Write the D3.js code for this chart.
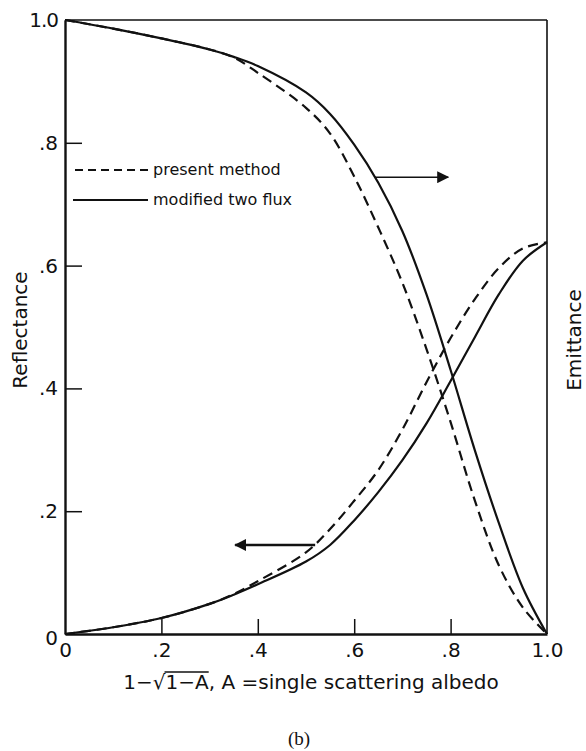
<!DOCTYPE html>
<html>
<head>
<meta charset="utf-8">
<script src="https://cdn.jsdelivr.net/npm/d3@7"></script>
<style>
  body { margin: 0; background: #fff; }
  svg text { font-family: "DejaVu Sans", sans-serif; fill: #111; }
</style>
</head>
<body>
<div class="container"></div>
<script>
// values
var xs = [0, 0.1, 0.2, 0.3, 0.35, 0.4, 0.5, 0.55, 0.6, 0.65, 0.7, 0.75, 0.8, 0.85, 0.9, 0.95, 1.0];
var emitTwoFlux = [1.0, 0.986, 0.970, 0.952, 0.940, 0.925, 0.882, 0.847, 0.797, 0.735, 0.656, 0.553, 0.430, 0.300, 0.181, 0.075, 0];
var emitPresent = [1.0, 0.986, 0.970, 0.952, 0.939, 0.914, 0.857, 0.815, 0.745, 0.662, 0.572, 0.464, 0.345, 0.218, 0.112, 0.043, 0];
var reflTwoFlux = [0, 0.011, 0.026, 0.049, 0.064, 0.081, 0.118, 0.145, 0.185, 0.231, 0.283, 0.343, 0.412, 0.483, 0.553, 0.608, 0.638];
var reflPresent = [0, 0.011, 0.026, 0.049, 0.065, 0.086, 0.133, 0.171, 0.217, 0.267, 0.333, 0.410, 0.482, 0.545, 0.596, 0.628, 0.638];
var yTicks = [0, 0.2, 0.4, 0.6, 0.8, 1.0];
var yTickLabels = ["0", ".2", ".4", ".6", ".8", "1.0"];
var xTicks = [0, 0.2, 0.4, 0.6, 0.8, 1.0];
var xTickLabels = ["0", ".2", ".4", ".6", ".8", "1.0"];
var legendLabels = ["present method", "modified two flux"];
// arrows: [y, xFrom, xTo]
var emitArrow = [0.744, 0.643, 0.795];
var reflArrow = [0.145, 0.519, 0.353];

var w = 586,
  h = 751;

var svg = d3
  .select(".container")
  .append("svg")
  .attr("width", w)
  .attr("height", h);

var xScale = d3.scaleLinear().domain([0, 1]).range([65, 547]);
var yScale = d3.scaleLinear().domain([0, 1]).range([634, 20]);

svg
  .append("defs")
  .append("marker")
  .attr("id", "head")
  .attr("viewBox", "0 0 12 12")
  .attr("refX", 11)
  .attr("refY", 6)
  .attr("markerWidth", 12)
  .attr("markerHeight", 12)
  .attr("markerUnits", "userSpaceOnUse")
  .attr("orient", "auto")
  .append("path")
  .attr("d", "M0,0 L12,6 L0,12 Z")
  .attr("fill", "#111");

// frame
svg
  .append("line")
  .attr("x1", xScale(0))
  .attr("x2", xScale(1))
  .attr("y1", yScale(1))
  .attr("y2", yScale(1))
  .attr("stroke", "#111")
  .attr("stroke-width", 1.6);
svg
  .append("line")
  .attr("x1", xScale(1))
  .attr("x2", xScale(1))
  .attr("y1", yScale(1))
  .attr("y2", yScale(0))
  .attr("stroke", "#111")
  .attr("stroke-width", 1.6);

var xAxis = d3
  .axisBottom(xScale)
  .tickValues(xTicks)
  .tickSizeInner(-15)
  .tickSizeOuter(0)
  .tickPadding(9)
  .tickFormat((d, i) => xTickLabels[i]);

var yAxis = d3
  .axisLeft(yScale)
  .tickValues(yTicks)
  .tickSizeInner(-17)
  .tickSizeOuter(0)
  .tickPadding(7)
  .tickFormat((d, i) => yTickLabels[i]);

var gx = svg
  .append("g")
  .attr("transform", "translate(0," + yScale(0) + ")")
  .call(xAxis);
var gy = svg
  .append("g")
  .attr("transform", "translate(" + xScale(0) + ",0)")
  .call(yAxis);

[gx, gy].forEach((g) => {
  g.selectAll("text")
    .style("font-family", "DejaVu Sans, sans-serif")
    .style("font-size", "20px")
    .attr("fill", "#111");
  g.selectAll("line").attr("stroke", "#111").attr("stroke-width", 1.5);
  g.select(".domain").attr("stroke", "#111").attr("stroke-width", 2.4);
});
// no inner tick on the corners
gx.selectAll(".tick line").filter((d) => d == 0 || d == 1).remove();
gy.selectAll(".tick line").filter((d) => d == 0 || d == 1).remove();
gy.selectAll(".tick text").filter((d) => d == 0).attr("dy", "0.5em");
gy.selectAll(".tick text").filter((d) => d == 1).attr("letter-spacing", "-1px");

var line = d3
  .line()
  .x((d) => xScale(d[0]))
  .y((d) => yScale(d[1]))
  .curve(d3.curveCatmullRom.alpha(0.5));

var series = [
  { v: emitTwoFlux, dash: null },
  { v: emitPresent, dash: "10,6" },
  { v: reflTwoFlux, dash: null },
  { v: reflPresent, dash: "10,6" }
];

svg
  .selectAll("path.curve")
  .data(series)
  .enter()
  .append("path")
  .attr("class", "curve")
  .attr("d", (s) => line(xs.map((x, i) => [x, s.v[i]])))
  .attr("fill", "none")
  .attr("stroke", "#111")
  .attr("stroke-width", 2.2)
  .attr("stroke-dasharray", (s) => s.dash);

// arrows
[emitArrow, reflArrow].forEach((a, i) => {
  svg
    .append("line")
    .attr("x1", xScale(a[1]))
    .attr("x2", xScale(a[2]))
    .attr("y1", yScale(a[0]))
    .attr("y2", yScale(a[0]))
    .attr("stroke", "#111")
    .attr("stroke-width", i == 0 ? 1.6 : 2.4)
    .attr("marker-end", "url(#head)");
});

// legend
var legend = svg.append("g");
legendLabels.forEach((t, i) => {
  var y = 170 + i * 30;
  legend
    .append("line")
    .attr("x1", i == 0 ? 75 : 73)
    .attr("x2", 148)
    .attr("y1", y)
    .attr("y2", y)
    .attr("stroke", "#111")
    .attr("stroke-width", 2)
    .attr("stroke-dasharray", i == 0 ? "8,5" : null);
  legend
    .append("text")
    .attr("x", 153)
    .attr("y", y + 5)
    .style("font-size", "16px")
    .text(t);
});

// axis titles
svg
  .append("text")
  .attr("transform", "translate(27,330) rotate(-90)")
  .attr("text-anchor", "middle")
  .style("font-size", "20px")
  .text("Reflectance");
svg
  .append("text")
  .attr("transform", "translate(581,340) rotate(-90)")
  .attr("text-anchor", "middle")
  .style("font-size", "20px")
  .text("Emittance");

var title = svg
  .append("text")
  .attr("x", 311)
  .attr("y", 689)
  .attr("text-anchor", "middle")
  .style("font-size", "20px");
title.append("tspan").text("1\u2212");
title.append("tspan").text("\u221A");
title.append("tspan").text("1\u2212A");
title.append("tspan").text(", A =single scattering albedo");

// overline for the square root
var e = title.node().getExtentOfChar(5),
  r = title.node().getExtentOfChar(2);
svg
  .append("line")
  .attr("x1", r.x + r.width - 1)
  .attr("x2", e.x + e.width)
  .attr("y1", r.y + 2)
  .attr("y2", r.y + 2)
  .attr("stroke", "#111")
  .attr("stroke-width", 1.3);

svg
  .append("text")
  .attr("x", 299)
  .attr("y", 745)
  .attr("text-anchor", "middle")
  .style("font-family", "Liberation Serif, serif")
  .style("font-size", "19px")
  .text("(b)");
</script>
</body>
</html>
